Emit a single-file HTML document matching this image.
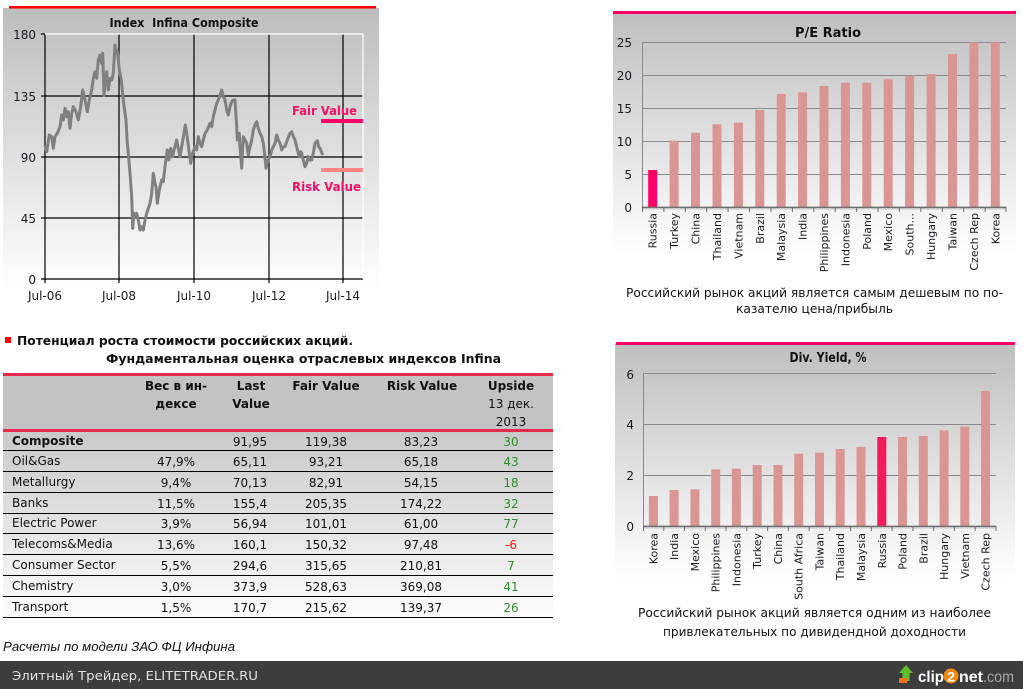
<!DOCTYPE html>
<html><head><meta charset="utf-8"><style>
html,body{margin:0;padding:0;background:#fff;}
#w{position:relative;width:1023px;height:689px;overflow:hidden;background:#fff;}
svg{position:absolute;left:0;top:0;}
</style></head><body><div id="w">
<svg width="1023" height="689" xmlns="http://www.w3.org/2000/svg" font-family="DejaVu Sans, Liberation Sans, sans-serif" fill="#111">
<defs>
<linearGradient id="g1" x1="0" y1="0" x2="0" y2="1"><stop offset="0" stop-color="#bdbdbd"/><stop offset="0.95" stop-color="#ffffff"/></linearGradient>
<linearGradient id="g2" x1="0" y1="0" x2="0" y2="1"><stop offset="0" stop-color="#bfbfbf"/><stop offset="0.92" stop-color="#ffffff"/></linearGradient>
<linearGradient id="g3" x1="0" y1="0" x2="0" y2="1"><stop offset="0" stop-color="#c9c9c9"/><stop offset="1" stop-color="#fdfdfd"/></linearGradient>
</defs>

<!-- ============ LINE CHART PANEL ============ -->
<rect x="3" y="8" width="376" height="297" fill="url(#g1)"/>
<rect x="9" y="6" width="367" height="2.5" fill="#ff0000"/>
<text x="184" y="27" font-size="12" font-weight="bold" text-anchor="middle" textLength="149" lengthAdjust="spacingAndGlyphs" xml:space="preserve">Index  Infina Composite</text>
<!-- grid -->
<g stroke="#000" stroke-width="1.2">
<line x1="45" y1="96" x2="363" y2="96"/>
<line x1="45" y1="157" x2="363" y2="157"/>
<line x1="45" y1="218" x2="363" y2="218"/>
<line x1="41" y1="279" x2="363" y2="279"/>
<line x1="119" y1="34" x2="119" y2="283"/>
<line x1="194" y1="34" x2="194" y2="283"/>
<line x1="269" y1="34" x2="269" y2="283"/>
<line x1="343" y1="34" x2="343" y2="283"/>
<line x1="45" y1="34" x2="45" y2="283"/>
<line x1="41" y1="34" x2="45" y2="34"/>
<line x1="41" y1="96" x2="45" y2="96"/>
<line x1="41" y1="157" x2="45" y2="157"/>
<line x1="41" y1="218" x2="45" y2="218"/>
</g>
<line x1="45" y1="34" x2="363" y2="34" stroke="#fff" stroke-width="1.2"/>
<line x1="363" y1="34" x2="363" y2="279" stroke="#fff" stroke-width="1.2"/>
<g font-size="12" text-anchor="end" fill="#1a1a22">
<text x="36" y="39">180</text>
<text x="36" y="101">135</text>
<text x="36" y="162">90</text>
<text x="36" y="223">45</text>
<text x="36" y="284">0</text>
</g>
<g font-size="12" text-anchor="middle" fill="#1a1a22">
<text x="45" y="300">Jul-06</text>
<text x="119" y="300">Jul-08</text>
<text x="194" y="300">Jul-10</text>
<text x="269" y="300">Jul-12</text>
<text x="343" y="300">Jul-14</text>
</g>
<polyline fill="none" stroke="#808080" stroke-width="3" stroke-linejoin="round" points="45,145 46.7,151.7 49.3,135 51.7,136.7 53.3,148.3 55,136.7 57.3,133.3 60,126.7 61.7,115 63.3,120 65,108.3 66.7,116.7 68.3,111.7 70,128.3 71.7,113.3 73.3,106.7 76,111.7 78.3,120 80.7,106.7 82.7,90 85,100 87.3,111.7 89.3,100 91.7,90 93.3,78.3 95,71.7 96.7,78.3 98.3,60 100,55 101.7,63.3 102.7,53.3 104,95 105.3,80 106.7,71.7 108.3,90 110,78.3 111.7,80 113.3,73.3 115,45 116,53.3 117.3,50 119.3,70 121.3,80 123.3,100 125,113.3 126,120 127.3,143.3 128.3,153.3 130,173.3 131.7,196.7 132.7,228.3 134,213.3 135,216.7 136.7,213.3 138.3,220 140,230 141.7,226.7 143.3,230 145,220 146.7,213.3 148.3,208.3 150,203.3 151.7,193.3 153.3,173.3 155,183.3 156,186.7 157.3,203.3 159.3,190 161.7,180 163.3,181.7 165,166.7 167.3,150 169,160 170.7,148.3 172.7,156.7 174,150 176.7,140 178.3,148.3 180,156.7 181.7,146.7 184,133.3 185.3,125 186.7,133.3 189.3,153.3 190.7,163.3 192.7,153.3 195,146.7 196.7,150 198.3,136.7 200,143.3 201.7,146.7 203.3,140 205,133.3 207.3,130 210,123.3 211.7,126.7 213.3,116.7 215,110 216.7,103.3 218.3,100 220,95 221.7,90 223.3,96.7 225,100 226.7,110 228.3,115 230,106.7 231.7,101.7 233.3,100 235,100 236.7,126.7 237.3,140 239.3,133.3 240,146.7 241.7,168.3 243.3,136.7 245,140 246.7,143.3 248.3,155 250,146.7 251.7,140 253.3,130 255,125 256.7,121.7 258.3,128.3 260,133.3 261.7,136.7 263.3,143.3 265,156.7 266,168.3 267.3,163.3 268.3,160 270,156.7 271.7,150 273.3,146.7 275,143.3 276.7,135 278.3,140 280,143.3 281.7,150 283.3,146.7 285,146.7 287.3,140 290,133.3 291.7,131.7 293.3,136.7 295,140 296.7,146.7 298.3,153.3 299.3,156.7 300.7,151.7 301.7,153.3 303.3,160 305,166.7 306.7,163.3 308.3,156.7 310,160 311.7,160 313.3,153.3 315,143.3 317.3,140.7 318.7,146.7 320,148.3 322.7,155"/>
<rect x="321" y="119" width="42" height="4" fill="#ff0066"/>
<rect x="321" y="168" width="42" height="4" fill="#ff8585"/>
<text x="292" y="115" font-size="12" font-weight="bold" fill="#ee1166" textLength="65" lengthAdjust="spacingAndGlyphs">Fair Value</text>
<text x="292" y="191" font-size="12" font-weight="bold" fill="#ee1166" textLength="69" lengthAdjust="spacingAndGlyphs">Risk Value</text>

<!-- ============ P/E PANEL ============ -->
<rect x="613" y="13" width="403" height="262" fill="url(#g2)"/>
<rect x="613" y="11" width="403" height="3" fill="#ff0066"/>
<text x="828" y="37" font-size="13" font-weight="bold" text-anchor="middle" textLength="66" lengthAdjust="spacingAndGlyphs">P/E Ratio</text>
<g stroke="#8a8a8a" stroke-width="1">
<line x1="642" y1="42.5" x2="1006" y2="42.5"/>
<line x1="642" y1="75.5" x2="1006" y2="75.5"/>
<line x1="642" y1="108.5" x2="1006" y2="108.5"/>
<line x1="642" y1="141.5" x2="1006" y2="141.5"/>
<line x1="642" y1="174.5" x2="1006" y2="174.5"/>
<line x1="642.5" y1="42" x2="642.5" y2="207"/>
</g>
<g font-size="12" text-anchor="end" fill="#1a1a22">
<text x="632" y="47">25</text>
<text x="632" y="80">20</text>
<text x="632" y="113">15</text>
<text x="632" y="146">10</text>
<text x="632" y="179">5</text>
<text x="632" y="212">0</text>
</g>
<g fill="#da9694">
<rect x="648.2" y="170" width="9" height="37" fill="#ff0066"/>
<rect x="669.6" y="140.7" width="9" height="66.3"/>
<rect x="691" y="132.7" width="9" height="74.3"/>
<rect x="712.5" y="124.3" width="9" height="82.7"/>
<rect x="733.9" y="122.7" width="9" height="84.3"/>
<rect x="755.3" y="110" width="9" height="97"/>
<rect x="776.7" y="94" width="9" height="113"/>
<rect x="798.1" y="92.3" width="9" height="114.7"/>
<rect x="819.5" y="86" width="9" height="121"/>
<rect x="840.9" y="82.7" width="9" height="124.3"/>
<rect x="862.3" y="82.7" width="9" height="124.3"/>
<rect x="883.7" y="79.3" width="9" height="127.7"/>
<rect x="905.1" y="75.7" width="9" height="131.3"/>
<rect x="926.6" y="74" width="9" height="133"/>
<rect x="948" y="54" width="9" height="153"/>
<rect x="969.4" y="42.3" width="9" height="164.7"/>
<rect x="990.8" y="42.3" width="9" height="164.7"/>
</g>
<line x1="642" y1="208.5" x2="1006" y2="208.5" stroke="#c8c8c8" stroke-width="2"/>
<line x1="642" y1="207.3" x2="1006" y2="207.3" stroke="#6e6e6e" stroke-width="1.4"/>
<g stroke="#6e6e6e" stroke-width="1">
<line x1="642.5" y1="207" x2="642.5" y2="212"/><line x1="663.9" y1="207" x2="663.9" y2="212"/><line x1="685.3" y1="207" x2="685.3" y2="212"/><line x1="706.7" y1="207" x2="706.7" y2="212"/><line x1="728.1" y1="207" x2="728.1" y2="212"/><line x1="749.5" y1="207" x2="749.5" y2="212"/><line x1="771" y1="207" x2="771" y2="212"/><line x1="792.4" y1="207" x2="792.4" y2="212"/><line x1="813.8" y1="207" x2="813.8" y2="212"/><line x1="835.2" y1="207" x2="835.2" y2="212"/><line x1="856.6" y1="207" x2="856.6" y2="212"/><line x1="878" y1="207" x2="878" y2="212"/><line x1="899.4" y1="207" x2="899.4" y2="212"/><line x1="920.8" y1="207" x2="920.8" y2="212"/><line x1="942.3" y1="207" x2="942.3" y2="212"/><line x1="963.7" y1="207" x2="963.7" y2="212"/><line x1="985.1" y1="207" x2="985.1" y2="212"/><line x1="1006" y1="207" x2="1006" y2="212"/>
</g>
<g font-size="11" text-anchor="end" fill="#1a1a22">
<text transform="translate(656.7,213) rotate(-90)">Russia</text>
<text transform="translate(678.1,213) rotate(-90)">Turkey</text>
<text transform="translate(699.5,213) rotate(-90)">China</text>
<text transform="translate(721,213) rotate(-90)">Thailand</text>
<text transform="translate(742.4,213) rotate(-90)">Vietnam</text>
<text transform="translate(763.8,213) rotate(-90)">Brazil</text>
<text transform="translate(785.2,213) rotate(-90)">Malaysia</text>
<text transform="translate(806.6,213) rotate(-90)">India</text>
<text transform="translate(828,213) rotate(-90)">Philippines</text>
<text transform="translate(849.4,213) rotate(-90)">Indonesia</text>
<text transform="translate(870.8,213) rotate(-90)">Poland</text>
<text transform="translate(892.2,213) rotate(-90)">Mexico</text>
<text transform="translate(913.6,213) rotate(-90)">South...</text>
<text transform="translate(935.1,213) rotate(-90)">Hungary</text>
<text transform="translate(956.5,213) rotate(-90)">Taiwan</text>
<text transform="translate(977.9,213) rotate(-90)">Czech Rep</text>
<text transform="translate(999.3,213) rotate(-90)">Korea</text>
</g>
<g font-size="12" fill="#111">
<text x="626" y="297" textLength="377" lengthAdjust="spacingAndGlyphs">Российский рынок акций является самым дешевым по по-</text>
<text x="736" y="313" textLength="157" lengthAdjust="spacingAndGlyphs">казателю цена/прибыль</text>
</g>

<!-- ============ DIV YIELD PANEL ============ -->
<rect x="615" y="344" width="400" height="256" fill="url(#g2)"/>
<rect x="616" y="342" width="399" height="3" fill="#ff0066"/>
<text x="828" y="362" font-size="13" font-weight="bold" text-anchor="middle" textLength="77" lengthAdjust="spacingAndGlyphs">Div. Yield, %</text>
<g stroke="#8a8a8a" stroke-width="1">
<line x1="643" y1="373.5" x2="996" y2="373.5"/>
<line x1="643" y1="424.5" x2="996" y2="424.5"/>
<line x1="643" y1="475.5" x2="996" y2="475.5"/>
<line x1="643.5" y1="373" x2="643.5" y2="526"/>
</g>
<g font-size="12" text-anchor="end" fill="#1a1a22">
<text x="634" y="379">6</text>
<text x="634" y="429">4</text>
<text x="634" y="480">2</text>
<text x="634" y="531">0</text>
</g>
<g fill="#da9694">
<rect x="648.9" y="496" width="9" height="30"/>
<rect x="669.6" y="490" width="9" height="36"/>
<rect x="690.4" y="489.3" width="9" height="36.7"/>
<rect x="711.2" y="469.3" width="9" height="56.7"/>
<rect x="731.9" y="468.7" width="9" height="57.3"/>
<rect x="752.7" y="465" width="9" height="61"/>
<rect x="773.5" y="465" width="9" height="61"/>
<rect x="794.2" y="453.7" width="9" height="72.3"/>
<rect x="815" y="452.7" width="9" height="73.3"/>
<rect x="835.7" y="449" width="9" height="77"/>
<rect x="856.5" y="447" width="9" height="79"/>
<rect x="877.3" y="437" width="9" height="89" fill="#f01a5c"/>
<rect x="898" y="437" width="9" height="89"/>
<rect x="918.8" y="436" width="9" height="90"/>
<rect x="939.6" y="430.3" width="9" height="95.7"/>
<rect x="960.3" y="426.7" width="9" height="99.3"/>
<rect x="981.1" y="391" width="9" height="135"/>
</g>
<line x1="643" y1="527.5" x2="996" y2="527.5" stroke="#c8c8c8" stroke-width="2"/>
<line x1="643" y1="526.3" x2="996" y2="526.3" stroke="#6e6e6e" stroke-width="1.4"/>
<g stroke="#6e6e6e" stroke-width="1">
<line x1="643.5" y1="526" x2="643.5" y2="531"/><line x1="663.8" y1="526" x2="663.8" y2="531"/><line x1="684.5" y1="526" x2="684.5" y2="531"/><line x1="705.3" y1="526" x2="705.3" y2="531"/><line x1="726" y1="526" x2="726" y2="531"/><line x1="746.8" y1="526" x2="746.8" y2="531"/><line x1="767.6" y1="526" x2="767.6" y2="531"/><line x1="788.3" y1="526" x2="788.3" y2="531"/><line x1="809.1" y1="526" x2="809.1" y2="531"/><line x1="829.8" y1="526" x2="829.8" y2="531"/><line x1="850.6" y1="526" x2="850.6" y2="531"/><line x1="871.4" y1="526" x2="871.4" y2="531"/><line x1="892.1" y1="526" x2="892.1" y2="531"/><line x1="912.9" y1="526" x2="912.9" y2="531"/><line x1="933.7" y1="526" x2="933.7" y2="531"/><line x1="954.4" y1="526" x2="954.4" y2="531"/><line x1="975.2" y1="526" x2="975.2" y2="531"/><line x1="996" y1="526" x2="996" y2="531"/>
</g>
<g font-size="11" text-anchor="end" fill="#1a1a22">
<text transform="translate(657.4,533) rotate(-90)">Korea</text>
<text transform="translate(678.1,533) rotate(-90)">India</text>
<text transform="translate(698.9,533) rotate(-90)">Mexico</text>
<text transform="translate(719.7,533) rotate(-90)">Philippines</text>
<text transform="translate(740.4,533) rotate(-90)">Indonesia</text>
<text transform="translate(761.2,533) rotate(-90)">Turkey</text>
<text transform="translate(782,533) rotate(-90)">China</text>
<text transform="translate(802.7,533) rotate(-90)">South Africa</text>
<text transform="translate(823.5,533) rotate(-90)">Taiwan</text>
<text transform="translate(844.2,533) rotate(-90)">Thailand</text>
<text transform="translate(865,533) rotate(-90)">Malaysia</text>
<text transform="translate(885.8,533) rotate(-90)">Russia</text>
<text transform="translate(906.5,533) rotate(-90)">Poland</text>
<text transform="translate(927.3,533) rotate(-90)">Brazil</text>
<text transform="translate(948.1,533) rotate(-90)">Hungary</text>
<text transform="translate(968.8,533) rotate(-90)">Vietnam</text>
<text transform="translate(989.6,533) rotate(-90)">Czech Rep</text>
</g>
<g font-size="12" fill="#111">
<text x="638" y="617" textLength="353" lengthAdjust="spacingAndGlyphs">Российский рынок акций является одним из наиболее</text>
<text x="663" y="636" textLength="303" lengthAdjust="spacingAndGlyphs">привлекательных по дивидендной доходности</text>
</g>

<!-- ============ TABLE ============ -->
<rect x="5" y="337" width="6" height="6" fill="#ff0000"/>
<text x="17" y="345" font-size="12" font-weight="bold" textLength="336" lengthAdjust="spacingAndGlyphs">Потенциал роста стоимости российских акций.</text>
<text x="106" y="363" font-size="12" font-weight="bold" textLength="395" lengthAdjust="spacingAndGlyphs">Фундаментальная оценка отраслевых индексов Infina</text>

<rect x="3" y="376" width="550" height="53" fill="#c3c3c3"/>
<rect x="3" y="432" width="550" height="185" fill="url(#g3)"/>
<rect x="3" y="373" width="550" height="3" fill="#e62a4c"/>
<rect x="3" y="429" width="550" height="3" fill="#e62a4c"/>
<g stroke="#000" stroke-width="1">
<line x1="3" y1="450.5" x2="553" y2="450.5"/>
<line x1="3" y1="471.5" x2="553" y2="471.5"/>
<line x1="3" y1="492.5" x2="553" y2="492.5"/>
<line x1="3" y1="513.5" x2="553" y2="513.5"/>
<line x1="3" y1="533.5" x2="553" y2="533.5"/>
<line x1="3" y1="554.5" x2="553" y2="554.5"/>
<line x1="3" y1="575.5" x2="553" y2="575.5"/>
<line x1="3" y1="596.5" x2="553" y2="596.5"/>
<line x1="3" y1="617.5" x2="553" y2="617.5"/>
</g>
<g font-size="12" font-weight="bold" text-anchor="middle" fill="#111">
<text x="176" y="390">Вес в ин-</text>
<text x="176" y="408">дексе</text>
<text x="251" y="390">Last</text>
<text x="251" y="408">Value</text>
<text x="326" y="390">Fair Value</text>
<text x="422" y="390">Risk Value</text>
<text x="511" y="390">Upside</text>
</g>
<g font-size="12" text-anchor="middle" fill="#111">
<text x="511" y="408">13 дек.</text>
<text x="511" y="426">2013</text>
</g>
<!-- names -->
<g font-size="12" fill="#111">
<text x="12" y="445" font-weight="bold">Composite</text>
<text x="12" y="465">Oil&amp;Gas</text>
<text x="12" y="486">Metallurgy</text>
<text x="12" y="507">Banks</text>
<text x="12" y="527">Electric Power</text>
<text x="12" y="548">Telecoms&amp;Media</text>
<text x="12" y="569">Consumer Sector</text>
<text x="12" y="590">Chemistry</text>
<text x="12" y="611">Transport</text>
</g>
<g font-size="12" text-anchor="middle" fill="#111">
<text x="250" y="446">91,95</text><text x="326" y="446">119,38</text><text x="421" y="446">83,23</text>
<text x="176" y="466">47,9%</text><text x="250" y="466">65,11</text><text x="326" y="466">93,21</text><text x="421" y="466">65,18</text>
<text x="176" y="487">9,4%</text><text x="250" y="487">70,13</text><text x="326" y="487">82,91</text><text x="421" y="487">54,15</text>
<text x="176" y="508">11,5%</text><text x="250" y="508">155,4</text><text x="326" y="508">205,35</text><text x="421" y="508">174,22</text>
<text x="176" y="528">3,9%</text><text x="250" y="528">56,94</text><text x="326" y="528">101,01</text><text x="421" y="528">61,00</text>
<text x="176" y="549">13,6%</text><text x="250" y="549">160,1</text><text x="326" y="549">150,32</text><text x="421" y="549">97,48</text>
<text x="176" y="570">5,5%</text><text x="250" y="570">294,6</text><text x="326" y="570">315,65</text><text x="421" y="570">210,81</text>
<text x="176" y="591">3,0%</text><text x="250" y="591">373,9</text><text x="326" y="591">528,63</text><text x="421" y="591">369,08</text>
<text x="176" y="612">1,5%</text><text x="250" y="612">170,7</text><text x="326" y="612">215,62</text><text x="421" y="612">139,37</text>
</g>
<g font-size="12" text-anchor="middle" fill="#2e8b2e">
<text x="511" y="446">30</text>
<text x="511" y="466">43</text>
<text x="511" y="487">18</text>
<text x="511" y="508">32</text>
<text x="511" y="528">77</text>
<text x="511" y="549" fill="#ff1111">-6</text>
<text x="511" y="570">7</text>
<text x="511" y="591">41</text>
<text x="511" y="612">26</text>
</g>

<!-- ============ FOOTER ============ -->
<text x="3" y="651" font-family="Liberation Sans, sans-serif" font-size="13" font-style="italic" fill="#111" textLength="232" lengthAdjust="spacingAndGlyphs">Расчеты по модели ЗАО ФЦ Инфина</text>
<rect x="0" y="661" width="1023" height="28" fill="#3d3d3d"/>
<text x="12" y="680" font-size="12" fill="#e2e2e2" textLength="246" lengthAdjust="spacingAndGlyphs">Элитный Трейдер, ELITETRADER.RU</text>
<polygon points="906,665 913,673 909.5,673 909.5,681 902.5,681 902.5,673 899,673" fill="#5fbf2a"/>
<rect x="899" y="678" width="8" height="5" fill="#f07020"/>
<text x="918" y="682" font-family="Liberation Sans, sans-serif" font-size="16" font-weight="bold" fill="#ffffff" textLength="26" lengthAdjust="spacingAndGlyphs">clip</text>
<circle cx="951" cy="676" r="7.5" fill="#f08a10"/>
<text x="951" y="681.5" font-family="Liberation Sans, sans-serif" font-size="14" font-weight="bold" fill="#ffffff" text-anchor="middle">2</text>
<text x="959" y="682" font-family="Liberation Sans, sans-serif" font-size="16" font-weight="bold" fill="#ffffff" textLength="24" lengthAdjust="spacingAndGlyphs">net</text>
<text x="983" y="682" font-family="Liberation Sans, sans-serif" font-size="16" fill="#a8a8a8" textLength="31" lengthAdjust="spacingAndGlyphs">.com</text>
</svg>
</div></body></html>
